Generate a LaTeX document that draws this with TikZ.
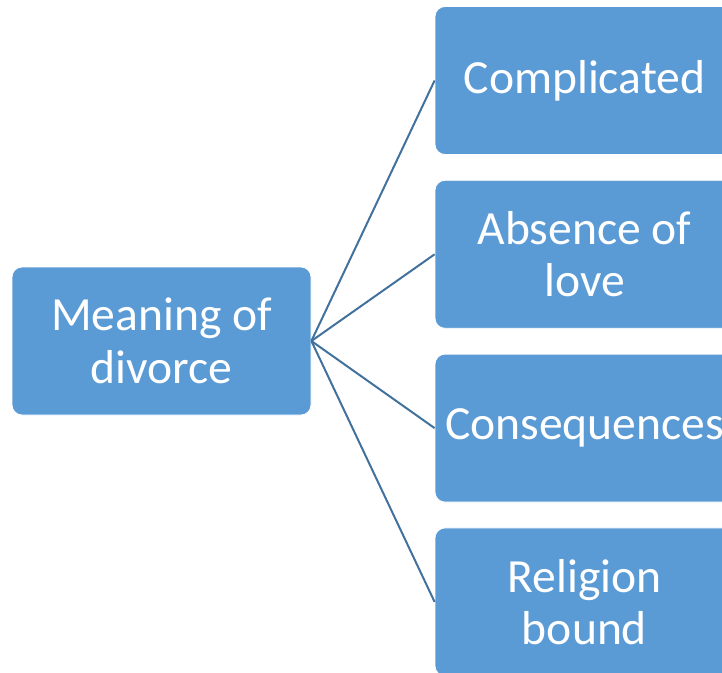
\documentclass[tikz,border=0pt]{standalone}
\usepackage{fontspec}
\setmainfont{Carlito}
\usetikzlibrary{positioning}
\definecolor{boxblue}{HTML}{5B9BD5}
\definecolor{linkblue}{HTML}{41719C}
\tikzset{
  topicbox/.style={rectangle, rounded corners=10pt, fill=boxblue, draw=white, line width=0.8pt,
    text=white, align=center, minimum width=299pt, minimum height=148pt,
    font=\fontsize{47.6}{52.5}\selectfont},
  link/.style={linkblue, line width=2pt}
}
\begin{document}
\begin{tikzpicture}[x=1pt, y=-1pt]
\useasboundingbox (0,0) rectangle (722,672);
\begin{scope}
\clip (0,0) rectangle (722,672);
% central topic
\node[topicbox] (meaning) at (161.5,341) {Meaning of\\divorce};
% sub topics
\node[topicbox] (complicated) at (584.5,80.5) {Complicated};
\node[topicbox, below=25pt of complicated] (absence) {Absence of\\love};
\node[topicbox, below=25pt of absence] (consequences) {Consequences};
\node[topicbox, below=25pt of consequences] (religion) {Religion\\bound};
% connectors
\draw[link] (meaning.east) -- (complicated.west);
\draw[link] (meaning.east) -- (absence.west);
\draw[link] (meaning.east) -- (consequences.west);
\draw[link] (meaning.east) -- (religion.west);
\end{scope}
\end{tikzpicture}
\end{document}
